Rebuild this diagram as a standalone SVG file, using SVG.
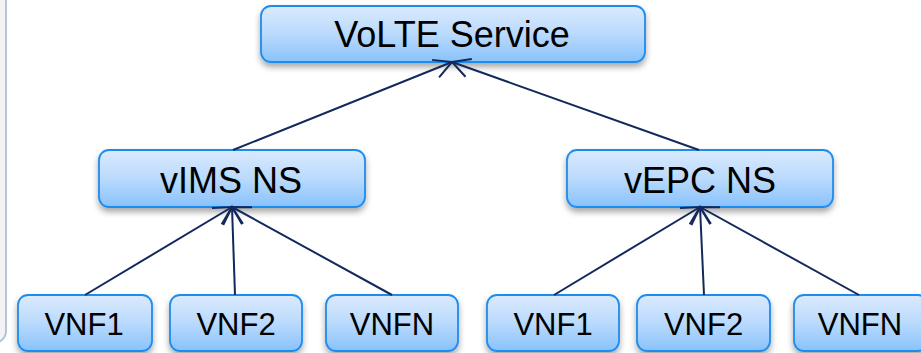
<svg xmlns="http://www.w3.org/2000/svg" width="921" height="353" viewBox="0 0 921 353">
<defs>
<linearGradient id="g" x1="0" y1="0" x2="0" y2="1">
<stop offset="0" stop-color="#dbeafd"/>
<stop offset="0.5" stop-color="#badafd"/>
<stop offset="1" stop-color="#88c2fb"/>
</linearGradient>
<filter id="sh" x="-10%" y="-20%" width="120%" height="160%">
<feDropShadow dx="0" dy="4" stdDeviation="3" flood-color="#000" flood-opacity="0.35"/>
</filter>
<marker id="ah" markerUnits="userSpaceOnUse" markerWidth="40" markerHeight="40" viewBox="-20 -20 40 40" refX="0" refY="0" orient="auto">
<path d="M-17.7,-9.4 L0,0 L-17.7,9.4" fill="none" stroke="#13295c" stroke-width="2"/>
</marker>
<style>
.box{fill:url(#g);stroke:#1f8cef;stroke-width:1.8;filter:url(#sh)}
.t{font-family:"Liberation Sans",Arial,sans-serif;fill:#000;text-anchor:middle}
.big{font-size:36px}
.sm{font-size:31px}
.c{stroke:#13295c;stroke-width:2;fill:none;marker-end:url(#ah)}
</style>
</defs>
<rect x="0" y="0" width="921" height="353" fill="#fff"/>
<rect id="panel" x="-20" y="-12" width="26" height="355" rx="12" fill="#f3f3f4" stroke="#aebfd8" stroke-width="1.8"/>
<g id="volte"><rect class="box" x="261" y="6" width="384" height="56" rx="10"/><text class="t big" x="452" y="47">VoLTE Service</text></g>
<g id="vims"><rect class="box" x="99" y="150" width="266" height="57" rx="10"/><text class="t big" x="231" y="193">vIMS NS</text></g>
<g id="vepc"><rect class="box" x="567" y="150" width="266" height="57" rx="10"/><text class="t big" x="700" y="193">vEPC NS</text></g>
<g id="vnf1a"><rect class="box" x="18" y="295" width="134" height="56" rx="10"/><text class="t sm" x="84" y="335">VNF1</text></g>
<g id="vnf2a"><rect class="box" x="170" y="295" width="132" height="56" rx="10"/><text class="t sm" x="236" y="335">VNF2</text></g>
<g id="vnfna"><rect class="box" x="326" y="295" width="132" height="56" rx="10"/><text class="t sm" x="392" y="335">VNFN</text></g>
<g id="vnf1b"><rect class="box" x="487" y="295" width="132" height="56" rx="10"/><text class="t sm" x="553" y="335">VNF1</text></g>
<g id="vnf2b"><rect class="box" x="637" y="295" width="133" height="56" rx="10"/><text class="t sm" x="703.5" y="335">VNF2</text></g>
<g id="vnfnb"><rect class="box" x="794" y="295" width="134" height="56" rx="10"/><text class="t sm" x="860" y="335">VNFN</text></g>
<g id="connectors">
<line class="c" x1="233" y1="150" x2="452" y2="62"/>
<line class="c" x1="699" y1="150" x2="452" y2="62"/>
<line class="c" x1="85" y1="295" x2="232" y2="207"/>
<line class="c" x1="235" y1="295" x2="232" y2="207"/>
<line class="c" x1="392" y1="295" x2="232" y2="207"/>
<line class="c" x1="554" y1="295" x2="700" y2="207"/>
<line class="c" x1="704" y1="295" x2="700" y2="207"/>
<line class="c" x1="859" y1="295" x2="700" y2="207"/>
</g>
</svg>
